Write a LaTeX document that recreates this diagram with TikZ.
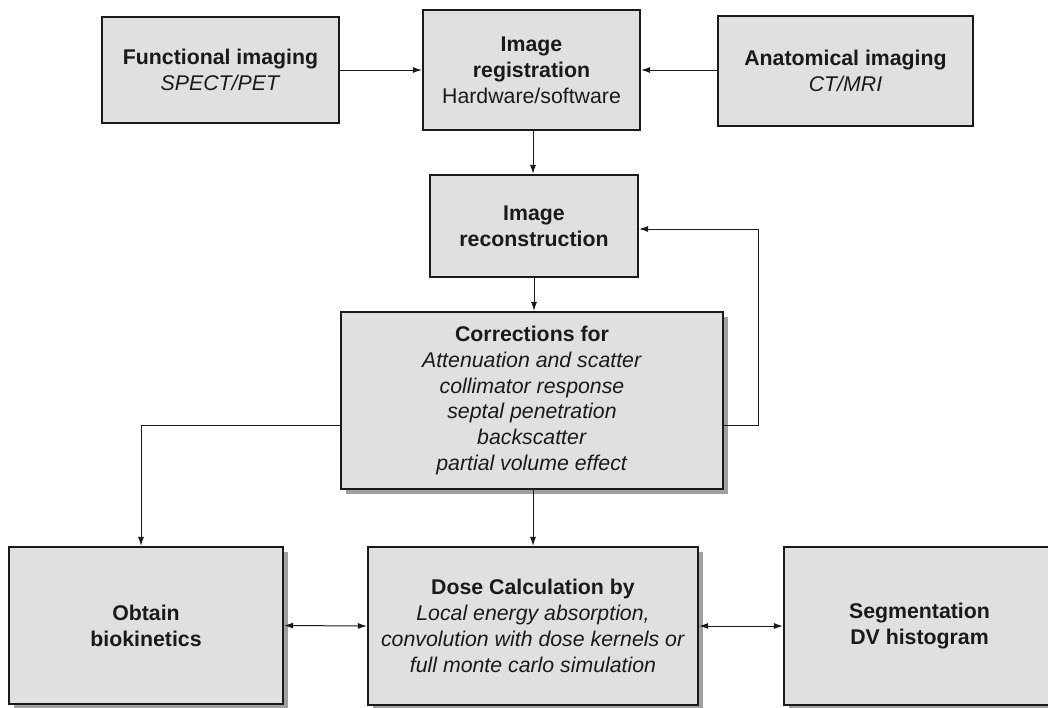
\documentclass[tikz,border=0pt]{standalone}
\usepackage{fontspec}
\setmainfont{Liberation Sans}
\usetikzlibrary{arrows.meta,shadows}
\definecolor{boxfill}{HTML}{E0E0E0}
\definecolor{shadowgray}{HTML}{A0A0A0}
\definecolor{inkc}{HTML}{1A1A1A}
\tikzset{
  box/.style={draw=inkc, line width=2.2pt, fill=boxfill, rectangle, inner sep=0pt, align=center,
    text=inkc, font=\fontsize{21.3}{25.8}\selectfont},
  shadowbox/.style={box, drop shadow={shadow xshift=4.5pt, shadow yshift=-4.5pt, fill=shadowgray, opacity=1}},
  conn/.style={draw=inkc, line width=1pt, -{Latex[length=9pt,width=6pt]}},
  biconn/.style={draw=inkc, line width=1pt, {Latex[length=9pt,width=6pt]}-{Latex[length=9pt,width=6pt]}},
}
\begin{document}
\begin{tikzpicture}[x=1pt,y=-1pt]
\path[use as bounding box] (0,0) rectangle (1048,707);
\node[box, minimum width=237pt, minimum height=106pt] (func) at (220.5,70) {\textbf{Functional imaging}\\\textit{SPECT/PET}};
\node[box, minimum width=217pt, minimum height=120pt] (reg) at (531.5,70) {\textbf{Image}\\\textbf{registration}\\Hardware/software};
\node[box, minimum width=255pt, minimum height=110pt] (anat) at (845.5,71) {\textbf{Anatomical imaging}\\\textit{CT/MRI}};
\node[box, minimum width=208pt, minimum height=102pt] (recon) at (534,226) {\textbf{Image}\\\textbf{reconstruction}};
\node[shadowbox, minimum width=382pt, minimum height=177pt] (corr) at (532,400.5) {\textbf{Corrections for}\\\textit{Attenuation and scatter}\\\textit{collimator response}\\\textit{septal penetration}\\\textit{backscatter}\\\textit{partial volume effect}};
\node[shadowbox, minimum width=274pt, minimum height=157pt] (obtain) at (146,625.5) {\textbf{Obtain}\\\textbf{biokinetics}};
\node[shadowbox, minimum width=330pt, minimum height=158pt] (dose) at (533,626) {\textbf{Dose Calculation by}\\\textit{Local energy absorption,}\\\textit{convolution with dose kernels or}\\\textit{full monte carlo simulation}};
\node[shadowbox, minimum width=271pt, minimum height=158pt] (seg) at (919.5,626) {\textbf{Segmentation}\\\textbf{DV histogram}};

\coordinate (fbR) at (758,425);
\coordinate (fbT) at (758,229);
\coordinate (lfR) at (141,425);

\draw[conn] (func.east) -- (reg.west);
\draw[conn] (anat.west |- reg.east) -- (reg.east);
\draw[conn] (reg.south -| 533,0) -- (recon.north -| 533,0);
\draw[conn] (recon.south) -- (corr.north -| recon.south);
\draw[conn] (corr.east |- fbR) -- (fbR) -- (fbT) -- (recon.east |- fbT);
\draw[conn] (corr.west |- lfR) -- (lfR) -- (lfR |- obtain.north);
\draw[conn] (corr.south -| 533,0) -- (dose.north -| 533,0);
\draw[biconn] (obtain.east) -- (dose.west);
\draw[biconn] (dose.east) -- (seg.west);
\end{tikzpicture}
\end{document}
